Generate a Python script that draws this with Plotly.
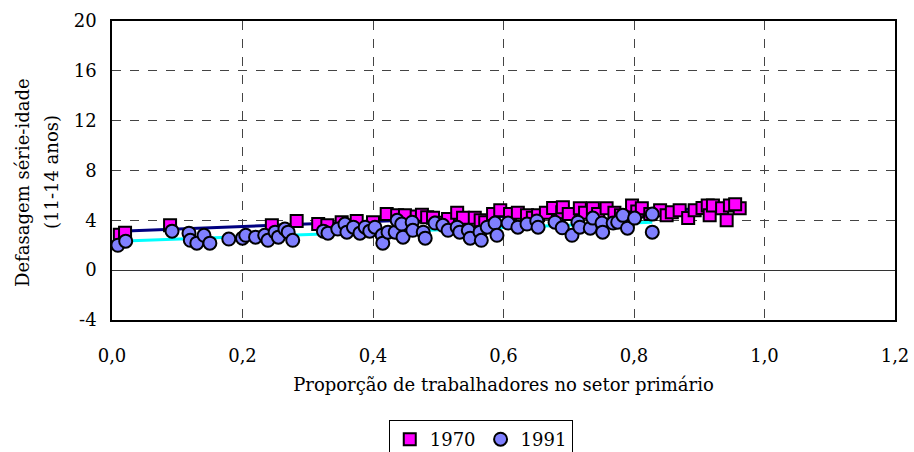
import plotly.graph_objects as go

# 1970 series (squares)
x_1970 = [0.012, 0.020, 0.089, 0.245, 0.283, 0.316, 0.330, 0.352, 0.375, 0.400,
          0.421, 0.437, 0.449, 0.467, 0.475, 0.483, 0.492, 0.503, 0.515, 0.529,
          0.538, 0.556, 0.565, 0.572, 0.584, 0.595, 0.610, 0.622, 0.636, 0.645,
          0.653, 0.665, 0.676, 0.690, 0.691, 0.700, 0.717, 0.725, 0.737, 0.745,
          0.758, 0.770, 0.780, 0.797, 0.805, 0.812, 0.825, 0.840, 0.850, 0.858,
          0.870, 0.883, 0.893, 0.905, 0.913, 0.916, 0.921, 0.935, 0.942, 0.947,
          0.962, 0.955]
y_1970 = [2.85, 3.00, 3.60, 3.60, 3.95, 3.70, 3.60, 3.85, 3.95, 3.85,
          4.50, 4.40, 4.40, 4.30, 4.45, 4.25, 4.20, 3.80, 4.10, 4.60,
          4.20, 4.20, 4.00, 3.85, 4.50, 4.80, 4.50, 4.60, 4.40, 4.20,
          4.40, 4.60, 5.00, 4.65, 5.06, 4.50, 4.97, 4.60, 4.97, 4.50,
          4.97, 4.60, 4.40, 5.20, 4.70, 4.97, 4.50, 4.80, 4.40, 4.65,
          4.80, 4.18, 4.80, 5.00, 5.20, 4.40, 5.20, 4.97, 4.00, 5.20,
          4.97, 5.30]

# 1991 series (circles)
x_1991 = [0.009, 0.021, 0.092, 0.118, 0.120, 0.130, 0.141, 0.150, 0.179, 0.200,
          0.205, 0.220, 0.234, 0.239, 0.250, 0.255, 0.265, 0.270, 0.277, 0.324,
          0.331, 0.346, 0.357, 0.360, 0.370, 0.380, 0.388, 0.395, 0.403, 0.414,
          0.415, 0.423, 0.434, 0.437, 0.444, 0.446, 0.460, 0.461, 0.477, 0.480,
          0.495, 0.507, 0.515, 0.529, 0.533, 0.546, 0.549, 0.564, 0.566, 0.575,
          0.587, 0.590, 0.607, 0.622, 0.636, 0.651, 0.653, 0.679, 0.690, 0.705,
          0.714, 0.717, 0.733, 0.737, 0.751, 0.752, 0.768, 0.775, 0.783, 0.790,
          0.801, 0.828, 0.828]
y_1991 = [2.00, 2.33, 3.13, 2.97, 2.40, 2.17, 2.80, 2.17, 2.50, 2.57,
          2.80, 2.65, 2.80, 2.40, 3.05, 2.65, 3.30, 3.05, 2.40, 3.13,
          2.97, 3.30, 3.70, 3.05, 3.45, 2.97, 3.45, 3.13, 3.45, 2.80,
          2.17, 3.05, 3.05, 4.00, 3.70, 2.65, 3.85, 3.20, 3.05, 2.57,
          3.78, 3.60, 3.20, 3.45, 3.05, 3.20, 2.57, 3.05, 2.40, 3.45,
          3.78, 2.80, 3.78, 3.45, 3.70, 3.95, 3.45, 3.85, 3.40, 2.80,
          3.85, 3.45, 3.37, 4.18, 3.78, 3.05, 3.78, 3.85, 4.40, 3.37,
          4.18, 4.50, 3.05]

# trend lines (endpoints)
trend_1970_x = [0.012, 0.962]
trend_1970_y = [3.12, 5.05]
trend_1991_x = [0.009, 0.828]
trend_1991_y = [2.32, 3.85]

x_ticks = [0, 0.2, 0.4, 0.6, 0.8, 1.0, 1.2]
y_ticks = [-4, 0, 4, 8, 12, 16, 20]
y_tick_labels = ["-4", "0", "4", "8", "12", "16", "20"]

y_title_lines = ["Defasagem série-idade", "(11-14 anos)"]
x_title = "Proporção de trabalhadores no setor primário"

FONT = "DejaVu Serif"
FS = 18

fig = go.Figure()
fig.add_trace(go.Scatter(x=trend_1970_x, y=trend_1970_y, mode="lines",
                         line=dict(color="#000080", width=3), showlegend=False,
                         hoverinfo="skip"))
fig.add_trace(go.Scatter(x=trend_1991_x, y=trend_1991_y, mode="lines",
                         line=dict(color="#00FFFF", width=3), showlegend=False,
                         hoverinfo="skip"))
fig.add_trace(go.Scatter(x=x_1970, y=y_1970, mode="markers", name="1970",
                         marker=dict(symbol="square", size=12, color="#FF00FF",
                                     line=dict(color="black", width=2))))
fig.add_trace(go.Scatter(x=x_1991, y=y_1991, mode="markers", name="1991",
                         marker=dict(symbol="circle", size=13, color="#8080FF",
                                     line=dict(color="black", width=2))))

fig.update_layout(
    width=914, height=452,
    margin=dict(l=112, r=19, t=21, b=132, autoexpand=False),
    paper_bgcolor="white", plot_bgcolor="white",
    separators=",.",
    font=dict(family=FONT, size=FS, color="black"),
    showlegend=True,
    legend=dict(orientation="h", xref="container", yref="container",
                x=0.526, xanchor="center", y=0.0708, yanchor="top",
                bordercolor="black", borderwidth=1,
                font=dict(family=FONT, size=FS), itemwidth=30,
                tracegroupgap=0, bgcolor="white"),
    annotations=[
        dict(text=y_title_lines[0], xref="paper", yref="paper",
             x=-0.115, y=0.4615, xanchor="center", yanchor="middle",
             textangle=-90, showarrow=False, font=dict(family=FONT, size=FS)),
        dict(text=y_title_lines[1], xref="paper", yref="paper",
             x=-0.0766, y=0.495, xanchor="center", yanchor="middle",
             textangle=-90, showarrow=False, font=dict(family=FONT, size=FS)),
    ],
)
fig.update_xaxes(
    range=[0, 1.2], tickvals=x_ticks, tickformat=".1f", automargin=False,
    showgrid=True, gridcolor="#444444", griddash="dash", gridwidth=1,
    showline=True, linecolor="black", linewidth=1.5, mirror=True,
    zeroline=False, ticks="", ticklabelstandoff=19, ticklabeloverflow="allow",
    title=dict(text=x_title, font=dict(family=FONT, size=FS), standoff=13),
)
fig.update_yaxes(
    range=[-4, 20], tickvals=y_ticks, ticktext=y_tick_labels, automargin=False,
    showgrid=True, gridcolor="#444444", griddash="dash", gridwidth=1,
    showline=True, linecolor="black", linewidth=1.5, mirror=True,
    zeroline=True, zerolinecolor="#333333", zerolinewidth=1,
    ticks="", ticklabelstandoff=10,
)

fig.write_html("out.html",
               config={"displayModeBar": False},
               post_script="document.body.style.margin='0';"
                           "document.body.style.overflow='hidden';")
